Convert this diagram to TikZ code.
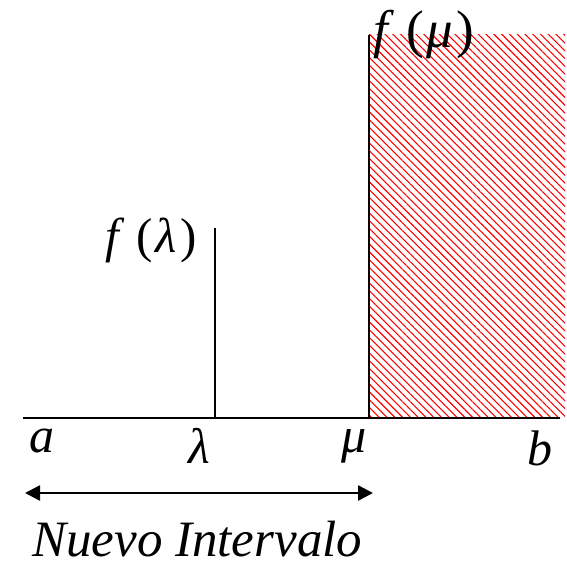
\documentclass[tikz,border=0pt]{standalone}
\usepackage{fontspec}
\setmainfont{Liberation Serif}
\usetikzlibrary{arrows.meta,patterns.meta}
\begin{document}
\begin{tikzpicture}[x=1pt,y=-1pt,
  lbl/.style={inner sep=0pt,font=\fontsize{50}{50}\selectfont\itshape},
  ax/.style={line width=2pt},
  span/.style={line width=2.5pt,{Triangle[length=15pt,width=15pt]}-{Triangle[length=15pt,width=15pt]}},
  hatch/.style={pattern={Lines[angle=-45,distance=5.5pt,line width=1.1pt]},pattern color=red}]
\useasboundingbox (0,0) rectangle (567,567);
% hatched region
\fill[hatch] (369,35) rectangle (565,418);
% coordinates
\coordinate (A) at (23,418);
\coordinate (B) at (560,418);
\coordinate (L0) at (215,418);
\coordinate (L1) at (215,228);
\coordinate (M0) at (369,418);
\coordinate (M1) at (369,35);
\coordinate (AL) at (25,493);
\coordinate (AR) at (373,493);
% lines
\draw[ax] (A) -- (B);
\draw[ax] (L0) -- (L1);
\draw[ax] (M0) -- (M1);
\draw[span] (AL) -- (AR);
% labels
\node[lbl,anchor=base west] (la) at (29,452) {a};
\node[lbl,anchor=base] (ll) at (199,463) {λ};
\node[lbl,anchor=base] (lm) at (354,452) {μ};
\node[lbl,anchor=base] (lb) at (540,465) {b};
\node[lbl,anchor=base west,font=\fontsize{49}{49}\selectfont] (fl) at (105,252) {\textit{f}\hspace{12pt}(\hspace{3pt}\textit{λ}\hspace{3pt})};
\node[lbl,anchor=base west,font=\fontsize{53}{53}\selectfont] (fm) at (373,48) {\textit{f}\hspace{12pt}(\hspace{3pt}\textit{μ}\hspace{3pt})};
\node[lbl,anchor=base west,font=\fontsize{51}{51}\selectfont\itshape] (nt) at (32,556) {Nuevo Intervalo};
\end{tikzpicture}
\end{document}
